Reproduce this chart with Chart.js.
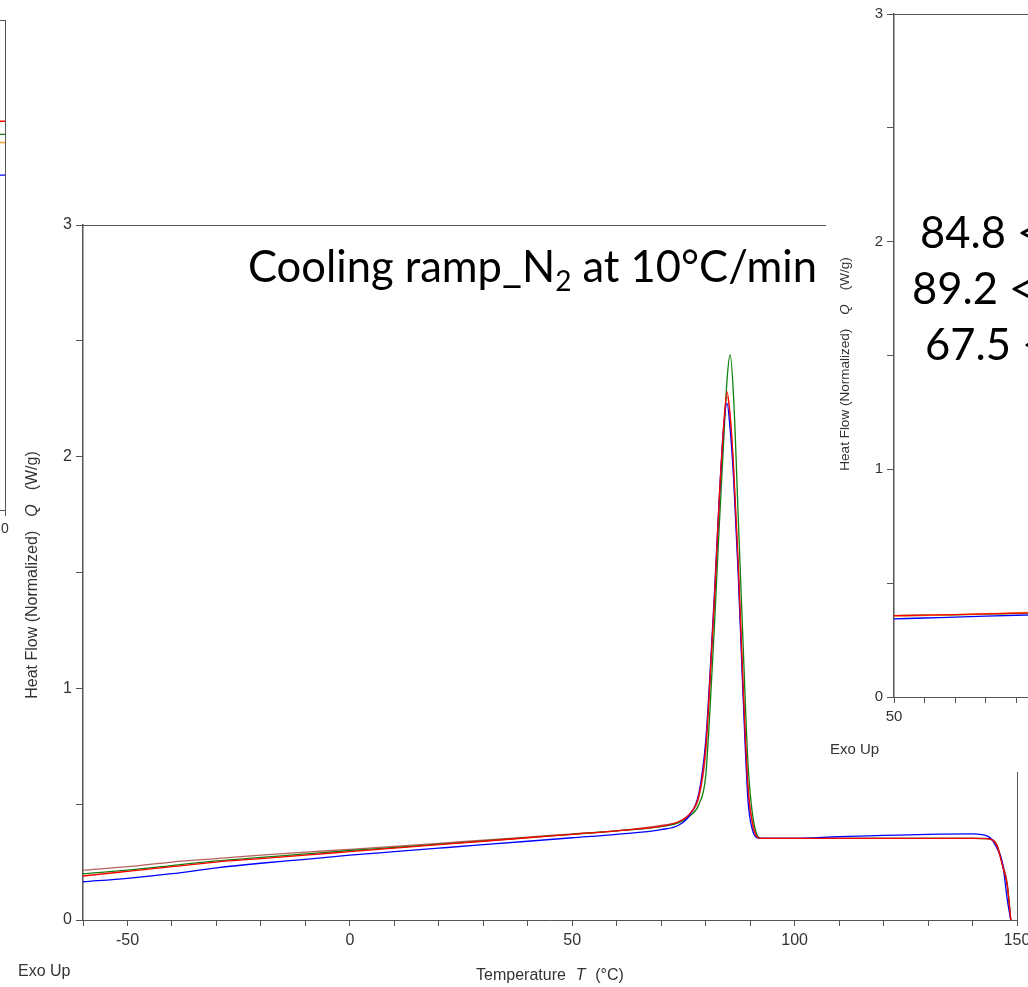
<!DOCTYPE html>
<html>
<head>
<meta charset="utf-8">
<script src="https://cdn.jsdelivr.net/npm/chart.js@4/dist/chart.umd.min.js"></script>
<style>
  html, body { margin: 0; padding: 0; background: #fff; overflow: hidden; width: 1028px; height: 987px; }
  #main { position: absolute; left: 0; top: 0; }
  #leftWin { position: absolute; left: 0; top: 0; width: 12px; height: 545px; overflow: hidden; background: #fff; }
  #leftWin canvas { position: absolute; left: -295px; top: 0; }
  #rightWin { position: absolute; left: 826px; top: 0; width: 202px; height: 772px; overflow: hidden; background: #fff; }
  #rightWin canvas { position: absolute; left: 0; top: 0; }
  .big { position: absolute; font-family: Lato, "Noto Sans", sans-serif; font-size: 43.5px; line-height: 43.5px; color: #000; white-space: nowrap; }
  .big sub { font-size: 28px; vertical-align: -9px; line-height: 0; }
</style>
</head>
<body>
<canvas id="main" width="1040" height="987"></canvas>
<div class="big" id="title" style="left:248px; top:244px;">Cooling ramp_N<sub>2</sub> at 10°C/min</div>

<div id="leftWin"><canvas id="leftChart" width="310" height="545"></canvas></div>

<div id="rightWin">
  <canvas id="rightChart" width="400" height="772"></canvas>
  <div class="big" style="left:94px; top:210px;">84.8 &lt; T</div>
  <div class="big" style="left:86px; top:266px;">89.2 &lt; T</div>
  <div class="big" style="left:99px; top:322px;">67.5 &lt; T</div>
</div>

<script>
// main window: cooling ramp, temperature (°C) vs heat flow (W/g)
const temps = [-60, -50, -40, -30, -20, -10, 0, 10, 20, 30, 40, 50, 60, 70, 74, 76.5, 78.5, 80, 81, 82, 83, 84, 84.8, 85.5, 86.3, 87.3, 88.3, 89.5, 90.5, 91.5, 92.5, 100, 110, 120, 130, 140, 143.6, 145.5, 146.8, 147.8, 148.6];
const qRed   = [0.19, 0.21, 0.23, 0.25, 0.265, 0.28, 0.295, 0.31, 0.325, 0.34, 0.355, 0.37, 0.385, 0.405, 0.425, 0.46, 0.54, 0.74, 1.05, 1.40, 1.80, 2.12, 2.28, 2.18, 1.95, 1.55, 1.07, 0.58, 0.42, 0.36, 0.352, 0.352, 0.352, 0.352, 0.352, 0.352, 0.35, 0.32, 0.23, 0.15, 0.0];
const qGreen = [0.20, 0.215, 0.235, 0.255, 0.27, 0.285, 0.30, 0.313, 0.327, 0.341, 0.356, 0.37, 0.385, 0.403, 0.42, 0.45, 0.50, 0.62, 0.92, 1.28, 1.68, 2.05, 2.33, 2.44, 2.25, 1.75, 1.25, 0.68, 0.46, 0.37, 0.352, 0.352, 0.352, 0.352, 0.352, 0.352, 0.35, 0.32, 0.23, 0.15, 0.0];
const qBlue  = [0.165, 0.18, 0.20, 0.225, 0.245, 0.262, 0.28, 0.295, 0.31, 0.325, 0.34, 0.355, 0.37, 0.39, 0.41, 0.455, 0.55, 0.77, 1.07, 1.42, 1.80, 2.12, 2.23, 2.12, 1.90, 1.50, 1.02, 0.52, 0.39, 0.355, 0.352, 0.352, 0.36, 0.365, 0.37, 0.372, 0.36, 0.31, 0.24, 0.09, 0.0];
const qBrown = [0.215, 0.23, 0.25, 0.265, 0.28, 0.293, 0.305, 0.318, 0.331, 0.345, 0.358, 0.372, 0.385, 0.408, 0.425, 0.46, 0.53, 0.72, 1.03, 1.38, 1.78, 2.10, 2.26, 2.17, 1.93, 1.53, 1.05, 0.57, 0.42, 0.36, 0.352, 0.352, 0.352, 0.352, 0.352, 0.352, 0.352, 0.325, 0.24, 0.16, 0.0];

// right window (zoomed view), only its left part is on screen
const rTemps  = [50, 55, 60, 65, 70, 75];
const rRed    = [0.357, 0.360, 0.362, 0.365, 0.368, 0.371];
const rGreen  = [0.357, 0.359, 0.361, 0.364, 0.367, 0.370];
const rOrange = [0.355, 0.358, 0.362, 0.366, 0.370, 0.373];
const rBlue   = [0.343, 0.347, 0.351, 0.355, 0.359, 0.362];

// left window, only its right edge is on screen
const lTemps  = [-100, -50, 0];
const lRed    = [2.38, 2.38, 2.38];
const lGreen  = [2.30, 2.30, 2.30];
const lOrange = [2.25, 2.25, 2.25];
const lBlue   = [2.05, 2.05, 2.05];

const SANS = '"Liberation Sans", Arial, sans-serif';
const AXIS = '#555';
const TXT = '#333';

function pts(xs, ys) { return xs.map((x, i) => ({ x: x, y: ys[i] })); }

function line(label, xs, ys, color) {
  return { label: label, data: pts(xs, ys), borderColor: color, borderWidth: 1.3, pointRadius: 0, cubicInterpolationMode: 'monotone', fill: false };
}

// parts: [text, font, gap after in px]
function mixedText(ctx, parts, x, y, rotate, align) {
  ctx.save();
  ctx.translate(x, y);
  if (rotate) ctx.rotate(-Math.PI / 2);
  let total = 0;
  parts.forEach(p => { ctx.font = p[1]; total += ctx.measureText(p[0]).width + (p[2] || 0); });
  let cx = align === 'left' ? 0 : -total / 2;
  ctx.textBaseline = 'middle';
  ctx.textAlign = 'left';
  ctx.fillStyle = TXT;
  parts.forEach(p => { ctx.font = p[1]; ctx.fillText(p[0], cx, 0); cx += ctx.measureText(p[0]).width + (p[2] || 0); });
  ctx.restore();
}

// frame + axis titles drawn per window
function decor(cfg) {
  return {
    id: 'decor',
    afterDraw(chart) {
      const ctx = chart.ctx, a = chart.chartArea;
      ctx.save();
      ctx.strokeStyle = AXIS;
      ctx.lineWidth = 1;
      ctx.beginPath();
      ctx.moveTo(a.left, a.top + 0.5);
      ctx.lineTo(a.right, a.top + 0.5);
      ctx.moveTo(a.right + 0.5, a.top);
      ctx.lineTo(a.right + 0.5, a.bottom);
      ctx.stroke();
      ctx.restore();
      const n = cfg.size + 'px ' + SANS, it = 'italic ' + cfg.size + 'px ' + SANS;
      const g = cfg.gap || 12;
      if (cfg.yTitleX != null) {
        mixedText(ctx, [['Heat Flow (Normalized)', n, g], ['Q', it, g], ['(W/g)', n]], cfg.yTitleX, cfg.yTitleY, true);
      }
      if (cfg.xTitleY != null) {
        mixedText(ctx, [['Temperature', n, g * 0.7], ['T', it, g * 0.7], ['(°C)', n]], (a.left + a.right) / 2, cfg.xTitleY, false);
      }
      if (cfg.exoX != null) {
        mixedText(ctx, [['Exo Up', cfg.exoSize + 'px ' + SANS]], cfg.exoX, cfg.exoY, false, 'left');
      }
    }
  };
}

function options(o) {
  return {
    responsive: false,
    animation: false,
    layout: { padding: o.padding },
    plugins: { legend: { display: false }, tooltip: { enabled: false }, title: { display: false } },
    scales: {
      x: {
        type: 'linear', min: o.xMin, max: o.xMax,
        afterFit: s => { s.height = o.xHeight; },
        afterBuildTicks: s => {
          const t = [];
          for (let v = o.xMin; v <= o.xMax + 1e-9; v += o.xStep) t.push({ value: v });
          s.ticks = t;
        },
        ticks: {
          autoSkip: false, maxRotation: 0, padding: 5, color: TXT,
          font: { family: SANS, size: o.tickSize },
          callback: v => (Math.abs(v % o.xLabelEvery) < 1e-9 ? String(v) : '')
        },
        grid: { drawOnChartArea: false, drawTicks: true, tickLength: 6, color: AXIS },
        border: { color: AXIS, width: 1 }
      },
      y: {
        min: 0, max: 3,
        afterFit: s => { s.width = o.yWidth; },
        ticks: {
          stepSize: 0.5, padding: 4, color: TXT,
          font: { family: SANS, size: o.tickSize },
          callback: v => (Number.isInteger(v) ? String(v) : '')
        },
        grid: { drawOnChartArea: false, drawTicks: true, tickLength: 7, color: AXIS },
        border: { color: AXIS, width: 1.5 }
      }
    }
  };
}

window.addEventListener('load', function () {
  new Chart(document.getElementById('main').getContext('2d'), {
    type: 'line',
    data: {
      datasets: [
        line('Run 1', temps, qRed, '#ff0000'),
        line('Run 2', temps, qBlue, '#0000ff'),
        line('Run 3', temps, qGreen, '#108010'),
        line('Run 4', temps, qBrown, '#b8605e')
      ]
    },
    options: options({
      padding: { left: 0, right: 23, top: 225, bottom: 0 },
      xMin: -60, xMax: 150, xStep: 10, xLabelEvery: 50, xHeight: 67, yWidth: 83, tickSize: 16
    }),
    plugins: [decor({ size: 16, gap: 14, yTitleX: 33, yTitleY: 575, xTitleY: 976, exoX: 18, exoY: 972, exoSize: 16 })]
  });

  new Chart(document.getElementById('rightChart').getContext('2d'), {
    type: 'line',
    data: {
      datasets: [
        line('Run 1', rTemps, rRed, '#ff0000'),
        line('Run 2', rTemps, rOrange, '#ffa030'),
        line('Run 3', rTemps, rGreen, '#108010'),
        line('Run 4', rTemps, rBlue, '#0000ff')
      ]
    },
    options: options({
      padding: { left: 0, right: 27, top: 14, bottom: 0 },
      xMin: 50, xMax: 100, xStep: 5, xLabelEvery: 50, xHeight: 75, yWidth: 68, tickSize: 15
    }),
    plugins: [decor({ size: 13.5, gap: 14, yTitleX: 19, yTitleY: 364, exoX: 4, exoY: 750, exoSize: 15 })]
  });

  new Chart(document.getElementById('leftChart').getContext('2d'), {
    type: 'line',
    data: {
      datasets: [
        line('Run 1', lTemps, lRed, '#ff0000'),
        line('Run 2', lTemps, lGreen, '#108010'),
        line('Run 3', lTemps, lOrange, '#ffa030'),
        line('Run 4', lTemps, lBlue, '#0000ff')
      ]
    },
    options: options({
      padding: { left: 0, right: 10, top: 20, bottom: 0 },
      xMin: -100, xMax: 0, xStep: 10, xLabelEvery: 50, xHeight: 35, yWidth: 60, tickSize: 14
    }),
    plugins: [decor({ size: 13 })]
  });
});
</script>
</body>
</html>
